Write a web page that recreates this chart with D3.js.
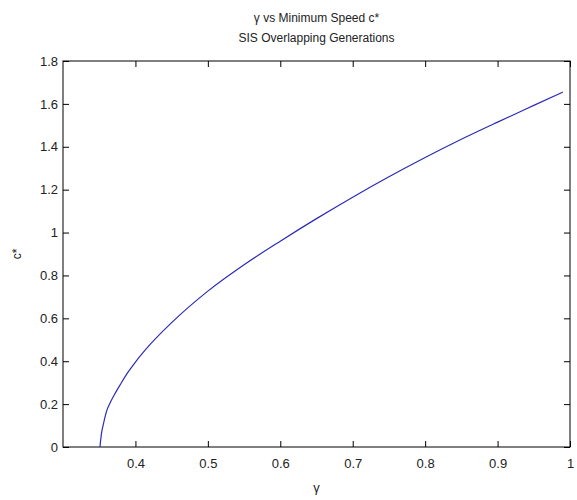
<!DOCTYPE html>
<html>
<head>
<meta charset="utf-8">
<script src="https://cdn.jsdelivr.net/npm/d3@7"></script>
<style>
  body { margin: 0; background: #fff; }
  text { font-family: "Liberation Sans", Arial, sans-serif; fill: #222; }
</style>
</head>
<body>
<div id="chart"></div>
<script>
const W = 577, H = 500;
const margin = { top: 61, right: 7, bottom: 53, left: 63 };
const width = W - margin.left - margin.right;
const height = H - margin.top - margin.bottom;

// gamma vs c*
const gamma = [0.351, 0.353, 0.356, 0.36, 0.365, 0.37, 0.38, 0.39, 0.40, 0.42, 0.45,
  0.5, 0.55, 0.6, 0.65, 0.7, 0.75, 0.8, 0.85, 0.9, 0.95, 0.99];
const cStar = [0, 0.06, 0.11, 0.165, 0.205, 0.238, 0.296, 0.35, 0.396, 0.477, 0.58,
  0.727, 0.85, 0.96, 1.065, 1.165, 1.26, 1.35, 1.435, 1.515, 1.593, 1.655];
const xTicks = [0.4, 0.5, 0.6, 0.7, 0.8, 0.9, 1];
const yTicks = [0, 0.2, 0.4, 0.6, 0.8, 1, 1.2, 1.4, 1.6, 1.8];
const title = ["\u03b3 vs Minimum Speed c*", "SIS Overlapping Generations"];

const svg = d3.select("#chart").append("svg")
  .attr("width", W).attr("height", H);
const g = svg.append("g")
  .attr("transform", `translate(${margin.left},${margin.top})`);

const x = d3.scaleLinear().domain([0.3, 1]).range([0, width]);
const y = d3.scaleLinear().domain([0, 1.8]).range([height, 0]);

const fmt = d => d === 0 || d === 1 ? String(d) : d3.format(".1f")(d);

// bottom / left axes with labels, inward ticks
g.append("g")
  .attr("transform", `translate(0,${height})`)
  .call(d3.axisBottom(x).tickValues(xTicks).tickFormat(fmt).tickSize(-6).tickPadding(12))
  .call(a => a.select(".domain").remove())
  .selectAll("text").style("font-size", "13px");

g.append("g")
  .call(d3.axisLeft(y).tickValues(yTicks).tickFormat(fmt).tickSize(-6).tickPadding(5))
  .call(a => a.select(".domain").remove())
  .selectAll("text").style("font-size", "13px");

// top / right ticks without labels
g.append("g")
  .call(d3.axisTop(x).tickValues(xTicks).tickFormat("").tickSize(-6))
  .call(a => a.select(".domain").remove());
g.append("g")
  .attr("transform", `translate(${width},0)`)
  .call(d3.axisRight(y).tickValues(yTicks).tickFormat("").tickSize(-6))
  .call(a => a.select(".domain").remove());

g.selectAll(".tick line").attr("stroke", "#000");

// box
g.append("rect")
  .attr("width", width).attr("height", height)
  .attr("fill", "none").attr("stroke", "#000").attr("stroke-width", 1);

const pts = gamma.map((v, i) => [v, cStar[i]]);
g.append("path")
  .datum(pts)
  .attr("fill", "none")
  .attr("stroke", "#2b2bb8")
  .attr("stroke-width", 1.2)
  .attr("d", d3.line().x(d => x(d[0])).y(d => y(d[1])).curve(d3.curveMonotoneX));

// titles
svg.selectAll("text.title")
  .data(title)
  .join("text")
  .attr("class", "title")
  .attr("x", margin.left + width / 2)
  .attr("y", (d, i) => 22 + i * 20)
  .attr("text-anchor", "middle")
  .style("font-size", "12px")
  .text(d => d);

svg.append("text")
  .attr("x", margin.left + width / 2)
  .attr("y", 492)
  .attr("text-anchor", "middle")
  .style("font-size", "13px")
  .text("\u03b3");

svg.append("text")
  .attr("transform", `translate(21,${margin.top + height / 2}) rotate(-90)`)
  .attr("text-anchor", "middle")
  .style("font-size", "12px")
  .text("c*");
</script>
</body>
</html>
